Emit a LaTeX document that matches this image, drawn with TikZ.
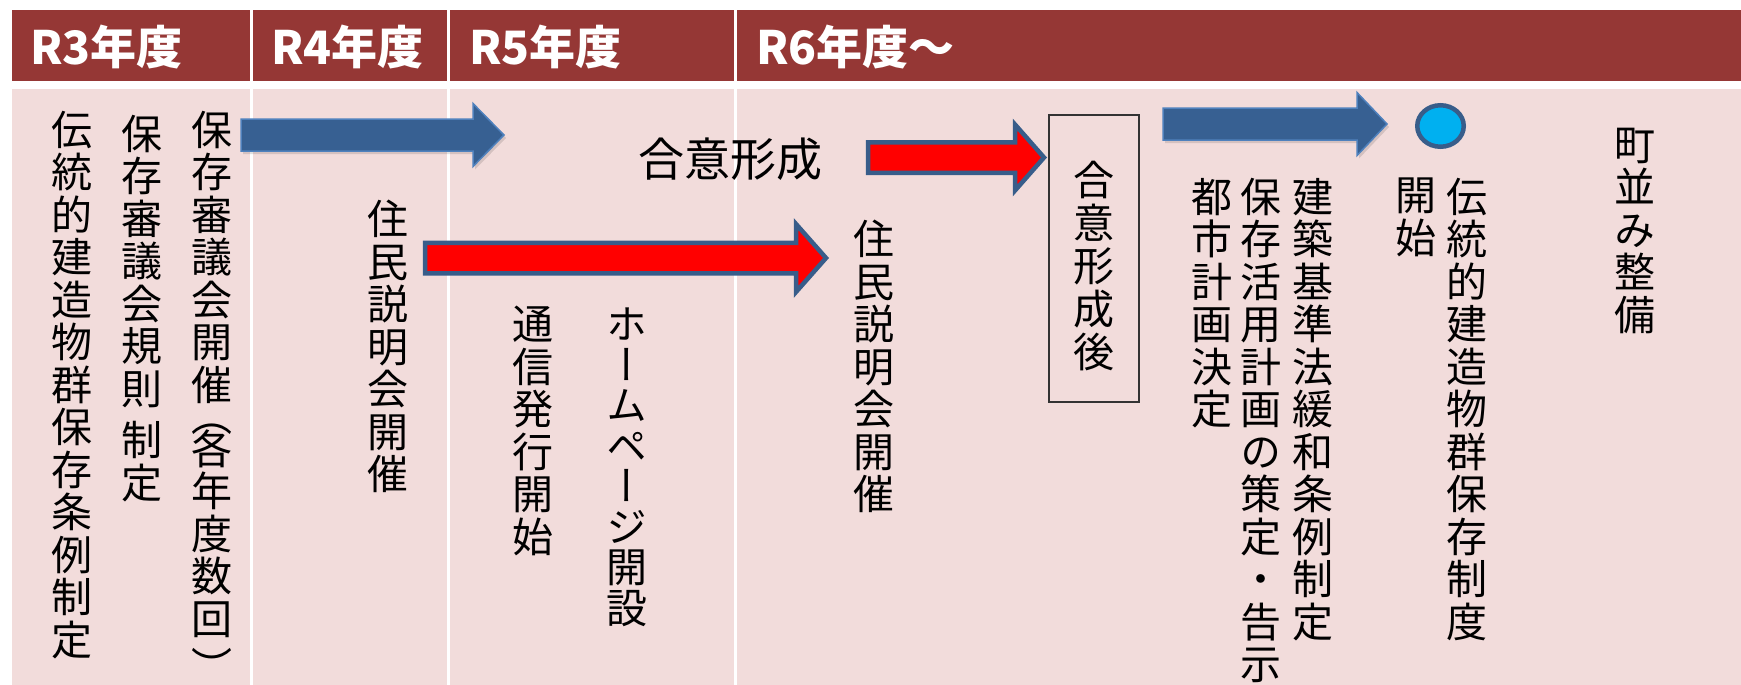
\documentclass[tikz,border=0pt]{standalone}
\usepackage{fontspec}
\usepackage{graphicx}
\newfontfamily\jp{Noto Sans CJK JP}
\newfontfamily\jpv{Noto Sans CJK JP}[RawFeature=+vert]
\usetikzlibrary{shapes.geometric}
\definecolor{hdr}{RGB}{149,55,53}
\definecolor{bgpink}{RGB}{242,220,219}
\definecolor{abl}{RGB}{55,96,146}
\definecolor{ablo}{RGB}{79,129,189}
\definecolor{aout}{RGB}{56,93,138}
\definecolor{dotcol}{RGB}{0,176,240}
\tikzset{
 vtext/.style={anchor=north, inner sep=0pt, outer sep=0pt, align=center, font=\jpv\fontsize{41}{42.5}\selectfont},
 htext/.style={anchor=base west, inner sep=0pt, text=white, font=\jp\bfseries\fontsize{46}{50}\selectfont},
 bluearrow/.style={fill=abl, draw=ablo, line width=1.5pt, line join=miter},
 arrshadow/.style={fill=black, fill opacity=0.12, draw=none},
 redarrow/.style={fill=red, draw=aout, line width=4.5pt, line join=miter},
}
% style, x0, tip, headbase, cy, bodyhalf, headhalf
\newcommand\blockarr[7]{%
 \draw[#1] (#2,#5-#6) -- (#4,#5-#6) -- (#4,#5-#7) -- (#3,#5) -- (#4,#5+#7) -- (#4,#5+#6) -- (#2,#5+#6) -- cycle;}
\begin{document}
\begin{tikzpicture}[x=1pt,y=-1pt]
\useasboundingbox (0,0) rectangle (1741,685);
\fill[white] (0,0) rectangle (1741,685);
% header and body bands
\fill[hdr] (12,10) rectangle (1741,81);
\fill[bgpink] (12,89) rectangle (1741,685);
\foreach \xx in {251.5,448.5,735}{\draw[white,line width=3pt] (\xx,10) -- (\xx,685);}
% header labels
\node[htext] (h3) at (30,65) {R3年度};
\node[htext] (h4) at (271,65) {R4年度};
\node[htext] (h5) at (469,65) {R5年度};
\node[htext] (h6) at (756,65) {R6年度～};
% arrows
\begin{scope}[shift={(2,3)}]
\blockarr{arrshadow}{241}{504}{473}{135}{16}{31.5}
\blockarr{arrshadow}{1163}{1387}{1357}{124}{16}{31.5}
\end{scope}
\blockarr{bluearrow}{241}{504}{473}{135}{16}{31.5}
\blockarr{bluearrow}{1163}{1387}{1357}{124}{16}{31.5}
\blockarr{redarrow}{425}{826}{796}{258}{15.25}{34}
\blockarr{redarrow}{868}{1044}{1015}{157.5}{15.25}{33}
% circle
\node[ellipse, draw=aout, fill=dotcol, line width=4.5pt, minimum width=46.5pt, minimum height=41.5pt, inner sep=0pt] (dot) at (1440.5,126) {};
% box
\node[draw=black!80, line width=1.2pt, minimum width=90pt, minimum height=287pt, inner sep=0pt] (box) at (1094,258.5) {};
% horizontal text
\node[inner sep=0pt, font=\jp\fontsize{46}{50}\selectfont] (gk) at (730,159) {合意形成};
% vertical texts
\node[vtext] (t1) at (72,111) {伝\\統\\的\\建\\造\\物\\群\\保\\存\\条\\例\\制\\定};
\node[vtext] (t2) at (142,115) {保\\存\\審\\議\\会\\規\\則\\[9pt]制\\定};
\node[vtext] (t3) at (212,111) {保\\存\\審\\議\\会\\開\\催\\[-11pt]（\\[-10pt]各\\年\\度\\数\\回\\[6pt]）};
\node[vtext] (t4) at (388,200) {住\\民\\説\\明\\会\\開\\催};
\node[vtext] (t5) at (533,306) {通\\信\\発\\行\\開\\始};
\node[vtext, font=\jpv\fontsize{41}{40.5}\selectfont] (t6) at (627,308) {ホ\\ー\\ム\\ペ\\ー\\ジ\\開\\設};
\node[vtext] (t7) at (874,220) {住\\民\\説\\明\\会\\開\\催};
\node[vtext, font=\jpv\fontsize{41}{43}\selectfont] (t8) at (1094,161) {合\\意\\形\\成\\後};
\node[vtext] (t9) at (1212,178) {都\\市\\計\\画\\決\\定};
\node[vtext] (t10) at (1261,178) {保\\存\\活\\用\\計\\画\\の\\策\\定\\・\\告\\示};
\node[vtext] (t11) at (1313,178) {建\\築\\基\\準\\法\\緩\\和\\条\\例\\制\\定};
\node[vtext] (t12) at (1416,178) {開\\始};
\node[vtext] (t13) at (1467,178) {伝\\統\\的\\建\\造\\物\\群\\保\\存\\制\\度};
\node[vtext] (t14) at (1635,128) {町\\並\\み\\整\\備};
\end{tikzpicture}
\end{document}
